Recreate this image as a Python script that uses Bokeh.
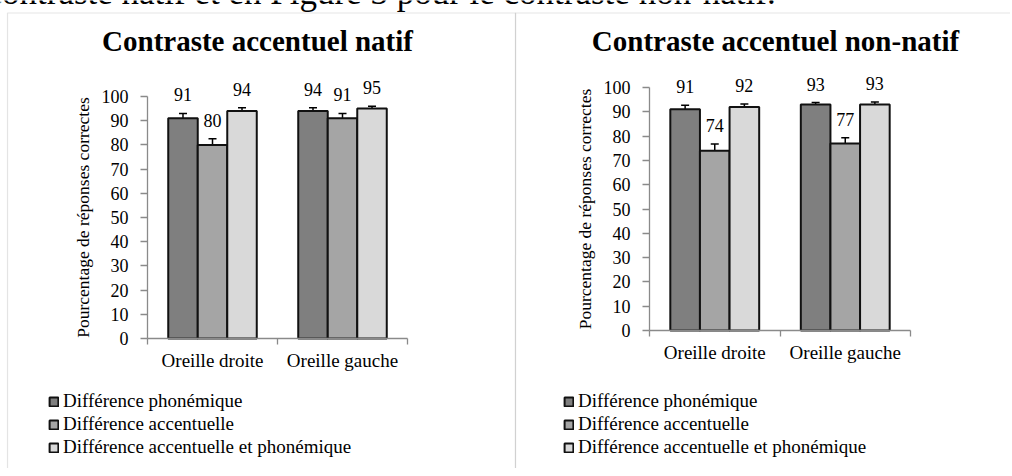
import numpy as np
from bokeh.plotting import figure
from bokeh.models import (ColumnDataSource, Range1d, FixedTicker, Whisker, TeeHead,
                          LabelSet, Label, Legend, LegendItem, LinearAxis, BoxAnnotation)
from bokeh.core.properties import value
from bokeh.embed import file_html
from bokeh.resources import INLINE

# ---------------- data ----------------
categories = ["Oreille droite", "Oreille gauche"]
series = ["Différence phonémique", "Différence accentuelle",
          "Différence accentuelle et phonémique"]
colors = ["#7f7f7f", "#a5a5a5", "#d9d9d9"]

natif_phon = [91, 94]
natif_acc = [80, 91]
natif_accphon = [94, 95]
natif_phon_err = [2.0, 1.3]
natif_acc_err = [2.5, 2.0]
natif_accphon_err = [1.3, 1.0]

nonnatif_phon = [91, 93]
nonnatif_acc = [74, 77]
nonnatif_accphon = [92, 93]
nonnatif_phon_err = [1.7, 0.8]
nonnatif_acc_err = [2.8, 2.3]
nonnatif_accphon_err = [1.2, 1.0]

y_ticks = list(range(0, 101, 10))

title_natif = "Contraste accentuel natif"
title_nonnatif = "Contraste accentuel non-natif"
y_label = "Pourcentage de réponses correctes"
top_sentence = "contraste natif et en Figure 3 pour le contraste non-natif."

# ---------------- layout (pixels) ----------------
W, H = 1010, 468
SERIF = "Liberation Serif"
SERIF_FB = "Liberation Serif, serif"
AXIS_GRAY = "#8a8a8a"
BORDER_GRAY = "#a6a6a6"
n = len(categories)

# panel anchors: (x of category start, x of category end, y of 0, y of 100)
P1 = dict(x0=147, x1=407, y0=338, y100=96, title=(257, 40), legend=(48, 10))
P2 = dict(x0=649, x1=910, y0=330, y100=87, title=(775, 40), legend=(563, 10))


def ranges_for(P):
    sx = (P["x1"] - P["x0"]) / n
    sy = (P["y0"] - P["y100"]) / 100.0
    xr = Range1d(-P["x0"] / sx, (W - P["x0"]) / sx)
    yr = Range1d(-(H - P["y0"]) / sy, P["y0"] / sy)
    tx = (P["title"][0] - P["x0"]) / sx
    ty = (P["y0"] - P["title"][1]) / sy
    return xr, yr, (tx, ty), sx, sy


xr1, yr1, t1, sx1, sy1 = ranges_for(P1)
xr2, yr2, t2, sx2, sy2 = ranges_for(P2)

p = figure(width=W, height=H, x_range=xr1, y_range=yr1,
           output_backend="svg", toolbar_location=None,
           min_border=0, min_border_left=0, min_border_right=0,
           min_border_top=0, min_border_bottom=0)
p.extra_x_ranges = {"x2": xr2}
p.extra_y_ranges = {"y2": yr2}
p.xgrid.visible = False
p.ygrid.visible = False
p.outline_line_color = None
p.background_fill_color = "white"
p.border_fill_color = "white"

# panel frames (thin grey box lines of the document)
p.add_layout(BoxAnnotation(left=(7 - P1["x0"]) / sx1, right=(515 - P1["x0"]) / sx1,
                           top=(P1["y0"] - 12.5) / sy1, bottom=yr1.start - 50,
                           fill_alpha=0, line_color=BORDER_GRAY, line_width=1.2))
p.add_layout(BoxAnnotation(left=(515 - P1["x0"]) / sx1, right=xr1.end + 50,
                           top=(P1["y0"] - 12.5) / sy1, bottom=yr1.start - 50,
                           fill_alpha=0, line_color=BORDER_GRAY, line_width=1.2))

# cut-off sentence of the surrounding document
p.add_layout(Label(x=-14, y=H + 8, x_units="screen", y_units="screen",
                   text=top_sentence, text_align="left", text_baseline="alphabetic",
                   text_font=SERIF, text_font_size="35px", text_color="black"))


def style_y(ya):
    ya.ticker = FixedTicker(ticks=y_ticks)
    ya.bounds = (0, 100)
    ya.fixed_location = 0
    ya.axis_line_color = AXIS_GRAY
    ya.axis_line_width = 1.3
    ya.major_tick_line_color = AXIS_GRAY
    ya.major_tick_line_width = 1.3
    ya.major_tick_out = 7
    ya.major_tick_in = 0
    ya.minor_tick_line_color = None
    ya.major_label_text_font = SERIF
    ya.major_label_text_font_size = "18px"
    ya.major_label_text_color = "black"
    ya.major_label_standoff = 12
    ya.axis_label = y_label
    ya.axis_label_text_font = SERIF
    ya.axis_label_text_font_size = "17.5px"
    ya.axis_label_text_font_style = "normal"
    ya.axis_label_text_color = "black"
    ya.axis_label_standoff = 6


def style_x(xa):
    cx = np.arange(n) + 0.5
    xa.ticker = FixedTicker(ticks=list(cx), minor_ticks=list(range(0, n + 1)))
    xa.major_label_overrides = {float(c): categories[i] for i, c in enumerate(cx)}
    xa.bounds = (0, n)
    xa.fixed_location = 0
    xa.axis_line_color = AXIS_GRAY
    xa.axis_line_width = 1.3
    xa.major_tick_line_color = None
    xa.major_tick_out = 6
    xa.major_tick_in = 0
    xa.minor_tick_line_color = AXIS_GRAY
    xa.minor_tick_line_width = 1.3
    xa.minor_tick_out = 6
    xa.minor_tick_in = 0
    xa.major_label_text_font = SERIF
    xa.major_label_text_font_size = "19px"
    xa.major_label_text_color = "black"
    xa.major_label_standoff = 5


def draw_panel(vals, errs, title_text, txy, legend_loc, xname, yname):
    bw = 0.227
    cx = np.arange(n) + 0.5
    items = []
    for k in range(len(series)):
        v = np.array(vals[k], dtype=float)
        e = np.array(errs[k], dtype=float)
        src = ColumnDataSource(dict(x=cx + (k - 1) * bw, top=v, upper=v + e, lower=v - e,
                                    label=[str(int(t)) for t in v]))
        r = p.vbar(x="x", top="top", bottom=0, width=bw, source=src,
                   fill_color=colors[k], line_color="#111111", line_width=2,
                   x_range_name=xname, y_range_name=yname)
        items.append(LegendItem(label=series[k], renderers=[r]))
        p.add_layout(Whisker(base="x", upper="upper", lower="lower", source=src,
                             line_color="black", line_width=1.5,
                             x_range_name=xname, y_range_name=yname,
                             upper_head=TeeHead(size=8, line_color="black", line_width=1.5),
                             lower_head=TeeHead(size=8, line_color="black", line_width=1.5)))
        p.add_layout(LabelSet(x="x", y="upper", text="label", source=src,
                              x_range_name=xname, y_range_name=yname,
                              text_align="center", text_baseline="bottom", y_offset=12,
                              text_font=value(SERIF), text_font_size="18px",
                              text_color="black"))
    p.add_layout(Label(x=txy[0], y=txy[1], text=title_text,
                       x_range_name=xname, y_range_name=yname,
                       text_align="center", text_baseline="middle",
                       text_font=SERIF_FB, text_font_style="bold",
                       text_font_size="29px", text_color="black"))
    legend = Legend(items=items, location=legend_loc, orientation="vertical",
                    border_line_color=None, background_fill_alpha=0,
                    padding=0, margin=0, spacing=1,
                    glyph_width=11, glyph_height=11, label_standoff=4,
                    label_height=22,
                    label_text_font=SERIF_FB, label_text_font_size="19px",
                    label_text_color="black")
    p.add_layout(legend)


# panel 1 axes (default ranges)
style_y(p.yaxis[0])
style_x(p.xaxis[0])
# panel 2 axes
ya2 = LinearAxis(x_range_name="x2", y_range_name="y2")
xa2 = LinearAxis(x_range_name="x2", y_range_name="y2")
p.add_layout(ya2, "left")
p.add_layout(xa2, "below")
style_y(ya2)
style_x(xa2)

draw_panel([natif_phon, natif_acc, natif_accphon],
           [natif_phon_err, natif_acc_err, natif_accphon_err],
           title_natif, t1, P1["legend"], "default", "default")
draw_panel([nonnatif_phon, nonnatif_acc, nonnatif_accphon],
           [nonnatif_phon_err, nonnatif_acc_err, nonnatif_accphon_err],
           title_nonnatif, t2, P2["legend"], "x2", "y2")

open("out.html", "w").write(file_html(p, INLINE))
